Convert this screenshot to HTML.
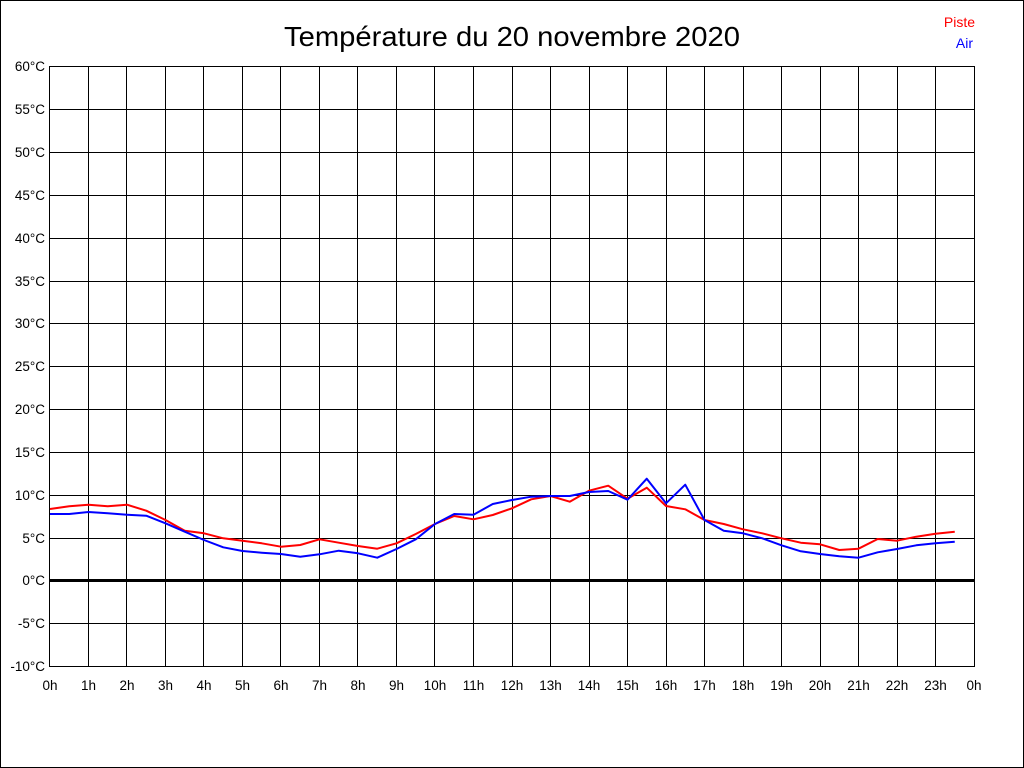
<!DOCTYPE html>
<html>
<head>
<meta charset="utf-8">
<style>
html,body{margin:0;padding:0;background:#fff;}
svg{display:block;}
text{font-family:"Liberation Sans",Arial,sans-serif;}
</style>
</head>
<body>
<svg width="1024" height="768" viewBox="0 0 1024 768" xmlns="http://www.w3.org/2000/svg">
<rect x="0" y="0" width="1024" height="768" fill="#fff"/>
<rect x="0.5" y="0.5" width="1023" height="767" fill="none" stroke="#000" stroke-width="1"/>

<text x="512" y="46" font-size="28" text-anchor="middle" textLength="456" lengthAdjust="spacingAndGlyphs" fill="#000">Température du 20 novembre 2020</text>

<text x="975" y="27" font-size="14" text-anchor="end" fill="#ff0000">Piste</text>
<text x="973" y="48" font-size="14" text-anchor="end" fill="#0000ff">Air</text>

<g stroke="#000" stroke-width="1" shape-rendering="crispEdges">
<line x1="49.5" y1="66.5" x2="974.5" y2="66.5"/>
<line x1="49.5" y1="109.5" x2="974.5" y2="109.5"/>
<line x1="49.5" y1="152.5" x2="974.5" y2="152.5"/>
<line x1="49.5" y1="195.5" x2="974.5" y2="195.5"/>
<line x1="49.5" y1="238.5" x2="974.5" y2="238.5"/>
<line x1="49.5" y1="281.5" x2="974.5" y2="281.5"/>
<line x1="49.5" y1="323.5" x2="974.5" y2="323.5"/>
<line x1="49.5" y1="366.5" x2="974.5" y2="366.5"/>
<line x1="49.5" y1="409.5" x2="974.5" y2="409.5"/>
<line x1="49.5" y1="452.5" x2="974.5" y2="452.5"/>
<line x1="49.5" y1="495.5" x2="974.5" y2="495.5"/>
<line x1="49.5" y1="538.5" x2="974.5" y2="538.5"/>
<line x1="49.5" y1="623.5" x2="974.5" y2="623.5"/>
<line x1="49.5" y1="666.5" x2="974.5" y2="666.5"/>

<line x1="49.5" y1="66" x2="49.5" y2="667"/>
<line x1="88.5" y1="66" x2="88.5" y2="667"/>
<line x1="126.5" y1="66" x2="126.5" y2="667"/>
<line x1="165.5" y1="66" x2="165.5" y2="667"/>
<line x1="203.5" y1="66" x2="203.5" y2="667"/>
<line x1="242.5" y1="66" x2="242.5" y2="667"/>
<line x1="280.5" y1="66" x2="280.5" y2="667"/>
<line x1="319.5" y1="66" x2="319.5" y2="667"/>
<line x1="357.5" y1="66" x2="357.5" y2="667"/>
<line x1="396.5" y1="66" x2="396.5" y2="667"/>
<line x1="434.5" y1="66" x2="434.5" y2="667"/>
<line x1="473.5" y1="66" x2="473.5" y2="667"/>
<line x1="512.5" y1="66" x2="512.5" y2="667"/>
<line x1="550.5" y1="66" x2="550.5" y2="667"/>
<line x1="589.5" y1="66" x2="589.5" y2="667"/>
<line x1="627.5" y1="66" x2="627.5" y2="667"/>
<line x1="666.5" y1="66" x2="666.5" y2="667"/>
<line x1="704.5" y1="66" x2="704.5" y2="667"/>
<line x1="743.5" y1="66" x2="743.5" y2="667"/>
<line x1="781.5" y1="66" x2="781.5" y2="667"/>
<line x1="820.5" y1="66" x2="820.5" y2="667"/>
<line x1="858.5" y1="66" x2="858.5" y2="667"/>
<line x1="897.5" y1="66" x2="897.5" y2="667"/>
<line x1="935.5" y1="66" x2="935.5" y2="667"/>
<line x1="974.5" y1="66" x2="974.5" y2="667"/>
</g>
<rect x="49" y="579" width="926" height="3" fill="#000"/>

<g font-size="13.5" fill="#000" text-anchor="end">
<text x="45" y="71">60°C</text>
<text x="45" y="114">55°C</text>
<text x="45" y="157">50°C</text>
<text x="45" y="200">45°C</text>
<text x="45" y="243">40°C</text>
<text x="45" y="286">35°C</text>
<text x="45" y="328">30°C</text>
<text x="45" y="371">25°C</text>
<text x="45" y="414">20°C</text>
<text x="45" y="457">15°C</text>
<text x="45" y="500">10°C</text>
<text x="45" y="543">5°C</text>
<text x="45" y="585">0°C</text>
<text x="45" y="628">-5°C</text>
<text x="45" y="671">-10°C</text>
</g>

<g font-size="13.5" fill="#000" text-anchor="middle">
<text x="50" y="690">0h</text>
<text x="88.5" y="690">1h</text>
<text x="127" y="690">2h</text>
<text x="165.5" y="690">3h</text>
<text x="204" y="690">4h</text>
<text x="242.5" y="690">5h</text>
<text x="281" y="690">6h</text>
<text x="319.5" y="690">7h</text>
<text x="358" y="690">8h</text>
<text x="396.5" y="690">9h</text>
<text x="435" y="690">10h</text>
<text x="473.5" y="690">11h</text>
<text x="512" y="690">12h</text>
<text x="550.5" y="690">13h</text>
<text x="589" y="690">14h</text>
<text x="627.5" y="690">15h</text>
<text x="666" y="690">16h</text>
<text x="704.5" y="690">17h</text>
<text x="743" y="690">18h</text>
<text x="781.5" y="690">19h</text>
<text x="820" y="690">20h</text>
<text x="858.5" y="690">21h</text>
<text x="897" y="690">22h</text>
<text x="935.5" y="690">23h</text>
<text x="974" y="690">0h</text>
</g>

<polyline fill="none" stroke="#ff0000" stroke-width="2" stroke-linejoin="round" points="
50,509 69.25,506.3 88.5,504.7 107.75,506.3 127,504.7 146.25,510.7 165.5,520 184.75,530.7
204,533.3 223.25,538.3 242.5,540.7 261.75,543.3 281,546.7 300.25,545 319.5,539.3 338.75,542.7
358,546 377.25,548.7 396.5,543.3 415.75,534 435,524 454.25,516 473.5,519.3 492.75,515
512,508.3 531.25,499.3 550.5,496 569.75,501.7 589,490.7 608.25,485.7 627.5,498.7 646.75,487.7
666,506 685.25,509.3 704.5,520 723.75,524 743,529.3 762.25,533.3 781.5,538.3 800.75,542.7
820,544.3 839.25,550 858.5,548.7 877.75,539 897,540.7 916.25,536.7 935.5,533.7 954.75,531.7"/>

<polyline fill="none" stroke="#0000ff" stroke-width="2" stroke-linejoin="round" points="
50,514 69.25,514 88.5,512 107.75,513.3 127,514.7 146.25,515.7 165.5,523.3 184.75,531.7
204,540 223.25,547.3 242.5,551 261.75,552.7 281,554 300.25,556.7 319.5,554.3 338.75,550.7
358,553.3 377.25,557.7 396.5,549 415.75,539.3 435,524 454.25,514 473.5,514.7 492.75,504
512,500 531.25,496.7 550.5,496 569.75,496 589,492 608.25,491 627.5,499.7 646.75,478.7
666,503.3 685.25,484.7 704.5,520 723.75,530.7 743,533.3 762.25,538.3 781.5,545.3 800.75,551.3
820,554 839.25,556.3 858.5,557.7 877.75,552.3 897,549 916.25,545.3 935.5,543.3 954.75,541.7"/>
</svg>
</body>
</html>
